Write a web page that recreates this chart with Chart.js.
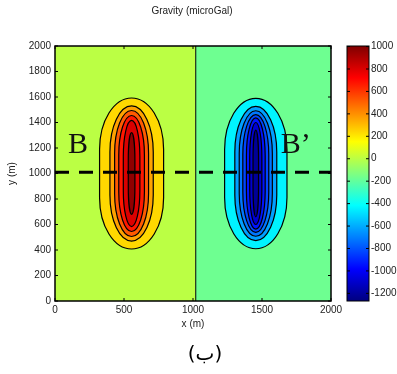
<!DOCTYPE html>
<html>
<head>
<meta charset="utf-8">
<script src="https://cdn.jsdelivr.net/npm/chart.js"></script>
<style>
  html, body { margin: 0; padding: 0; background: #fff; }
</style>
</head>
<body>
<canvas id="gravityMap" width="397" height="374"></canvas>
<script>
const xTicks = [0, 500, 1000, 1500, 2000];
const yTicks = [0, 200, 400, 600, 800, 1000, 1200, 1400, 1600, 1800, 2000];
const cbarTicks = [-1200, -1000, -800, -600, -400, -200, 0, 200, 400, 600, 800, 1000];
const cbarMin = -1268;
const cbarMax = 1005;

// background level left / right of the split
const bgSplitX = 1020;
const bgLevels = [0, -170];

// positive body contours (outer -> inner)
const posCenter = [555, 1000];
const posLevels = [240, 360, 520, 670, 800, 970];
const posHalfWidth = [232, 157, 123, 93, 60, 24];
const posHalfHeight = [592, 530, 494, 455, 416, 320];

// negative body contours (outer -> inner)
const negCenter = [1455, 1000];
const negLevels = [-440, -628, -719, -830, -939, -1087, -1217];
const negHalfWidth = [226, 152, 120, 94, 68, 44, 20];
const negHalfHeight = [590, 527, 492, 462, 436, 400, 340];

// profile B-B'
const profileY = 1010;
const profileLabels = ['B', 'B\u2019'];
const profileLabelX = [167, 1745];
const profileLabelY = 1160;

const tickFont = { family: 'Liberation Sans, Arial, sans-serif', size: 10 };
const textColor = '#222';
const plainTick = v => String(v);

function jet(v) {
  const t = Math.min(1, Math.max(0, (v - cbarMin) / (cbarMax - cbarMin)));
  const c = x => Math.round(255 * Math.min(1, Math.max(0, x)));
  const r = c(1.5 - Math.abs(4 * t - 3));
  const g = c(1.5 - Math.abs(4 * t - 2));
  const b = c(1.5 - Math.abs(4 * t - 1));
  return `rgb(${r},${g},${b})`;
}

function drawLobe(ctx, xs, ys, center, hw, hh, level) {
  const left = xs.getPixelForValue(center[0] - hw);
  const right = xs.getPixelForValue(center[0] + hw);
  const top = ys.getPixelForValue(center[1] + hh);
  const bottom = ys.getPixelForValue(center[1] - hh);
  const w = right - left, h = bottom - top;
  const rx = w / 2, ry = 0.68 * h / 2;
  ctx.beginPath();
  ctx.roundRect(left, top, w, h, [{ x: rx, y: ry }]);
  ctx.fillStyle = jet(level);
  ctx.fill();
  ctx.lineWidth = 1.2;
  ctx.strokeStyle = '#000';
  ctx.stroke();
}

const gravityPlugin = {
  id: 'gravityMap',
  beforeDatasetsDraw(chart) {
    const { ctx, chartArea: a, scales: { x, y } } = chart;
    ctx.save();
    ctx.beginPath();
    ctx.rect(a.left, a.top, a.right - a.left, a.bottom - a.top);
    ctx.clip();
    const split = x.getPixelForValue(bgSplitX);
    ctx.fillStyle = jet(bgLevels[0]);
    ctx.fillRect(a.left, a.top, split - a.left, a.bottom - a.top);
    ctx.fillStyle = jet(bgLevels[1]);
    ctx.fillRect(split, a.top, a.right - split, a.bottom - a.top);
    ctx.beginPath();
    ctx.moveTo(split, a.top);
    ctx.lineTo(split, a.bottom);
    ctx.lineWidth = 1;
    ctx.strokeStyle = '#000';
    ctx.stroke();

    posLevels.forEach((lv, i) => drawLobe(ctx, x, y, posCenter, posHalfWidth[i], posHalfHeight[i], lv));
    negLevels.forEach((lv, i) => drawLobe(ctx, x, y, negCenter, negHalfWidth[i], negHalfHeight[i], lv));

    ctx.fillStyle = '#111';
    ctx.font = '30px "Liberation Serif", "Times New Roman", serif';
    ctx.textAlign = 'center';
    ctx.textBaseline = 'alphabetic';
    profileLabels.forEach((t, i) => {
      ctx.fillText(t, x.getPixelForValue(profileLabelX[i]), y.getPixelForValue(profileLabelY));
    });
    ctx.restore();
  },
  afterDraw(chart) {
    const { ctx, chartArea: a, scales: { x, y, y2 } } = chart;
    ctx.save();
    // axes box and inward ticks
    ctx.strokeStyle = '#000';
    ctx.lineWidth = 1.5;
    ctx.strokeRect(a.left, a.top, a.right - a.left, a.bottom - a.top);
    ctx.lineWidth = 1;
    ctx.beginPath();
    xTicks.forEach(v => {
      const px = x.getPixelForValue(v);
      ctx.moveTo(px, a.bottom); ctx.lineTo(px, a.bottom - 3);
      ctx.moveTo(px, a.top); ctx.lineTo(px, a.top + 3);
    });
    yTicks.forEach(v => {
      const py = y.getPixelForValue(v);
      ctx.moveTo(a.left, py); ctx.lineTo(a.left + 3, py);
      ctx.moveTo(a.right, py); ctx.lineTo(a.right - 3, py);
    });
    ctx.stroke();

    // colorbar
    const cx0 = y2.left + 16, cx1 = y2.left + 38;
    const cTop = y2.getPixelForValue(cbarMax), cBot = y2.getPixelForValue(cbarMin);
    const grad = ctx.createLinearGradient(0, cBot, 0, cTop);
    for (let i = 0; i <= 64; i++) {
      grad.addColorStop(i / 64, jet(cbarMin + (cbarMax - cbarMin) * i / 64));
    }
    ctx.fillStyle = grad;
    ctx.fillRect(cx0, cTop, cx1 - cx0, cBot - cTop);
    ctx.strokeRect(cx0, cTop, cx1 - cx0, cBot - cTop);
    ctx.beginPath();
    cbarTicks.forEach(v => {
      const py = y2.getPixelForValue(v);
      ctx.moveTo(cx0, py); ctx.lineTo(cx0 + 3, py);
      ctx.moveTo(cx1, py); ctx.lineTo(cx1 - 3, py);
    });
    ctx.stroke();

    // title and caption
    ctx.fillStyle = textColor;
    ctx.textAlign = 'center';
    ctx.textBaseline = 'middle';
    ctx.font = '10px "Liberation Sans", Arial, sans-serif';
    ctx.fillText('Gravity (microGal)', 192, 11);
    ctx.fillStyle = '#000';
    ctx.font = '20px "DejaVu Sans", sans-serif';
    ctx.fillText('(ب)', 205, 355);
    ctx.restore();
  }
};

new Chart(document.getElementById('gravityMap'), {
  type: 'scatter',
  data: {
    datasets: [{
      data: [{ x: 0, y: profileY }, { x: 2000, y: profileY }],
      xAxisID: 'x',
      yAxisID: 'y',
      showLine: true,
      borderColor: '#000',
      borderWidth: 3,
      borderDash: [14, 10],
      pointRadius: 0
    }]
  },
  options: {
    responsive: false,
    animation: false,
    layout: { padding: { top: 24, bottom: 43, left: 0, right: 0 } },
    plugins: { legend: { display: false }, tooltip: { enabled: false } },
    scales: {
      x: {
        type: 'linear', position: 'bottom', min: 0, max: 2000,
        afterBuildTicks: s => { s.ticks = xTicks.map(v => ({ value: v })); },
        afterFit: s => { s.height = 30; },
        grid: { display: false, drawTicks: false }, border: { display: false },
        ticks: { padding: 3, font: tickFont, color: textColor, maxRotation: 0, callback: plainTick },
        title: { display: true, text: 'x (m)', font: tickFont, color: textColor, padding: { top: 0, bottom: 1 } }
      },
      y: {
        type: 'linear', position: 'left', min: 0, max: 2000,
        afterBuildTicks: s => { s.ticks = yTicks.map(v => ({ value: v })); },
        afterFit: s => { s.width = 55; },
        grid: { display: false, drawTicks: false }, border: { display: false },
        ticks: { padding: 4, font: tickFont, color: textColor, callback: plainTick },
        title: { display: true, text: 'y (m)', font: tickFont, color: textColor, padding: { top: 6, bottom: 0 } }
      },
      y2: {
        type: 'linear', position: 'right', min: cbarMin, max: cbarMax,
        afterBuildTicks: s => { s.ticks = cbarTicks.map(v => ({ value: v })); },
        afterFit: s => { s.width = 66; },
        grid: { display: false, drawTicks: false }, border: { display: false },
        ticks: { padding: 40, font: tickFont, color: textColor, callback: plainTick }
      }
    }
  },
  plugins: [gravityPlugin]
});
</script>
</body>
</html>
